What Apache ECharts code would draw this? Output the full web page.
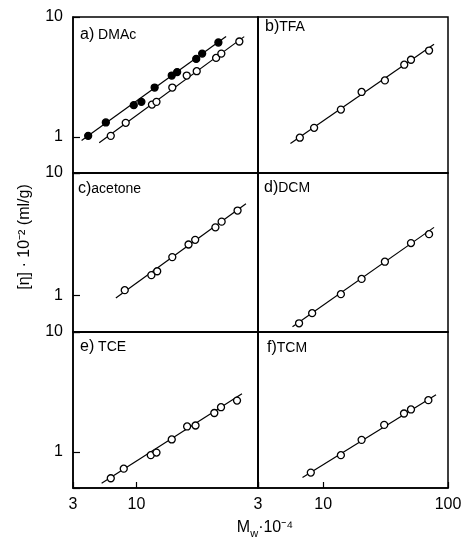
<!DOCTYPE html>
<html>
<head>
<meta charset="utf-8">
<script src="https://cdn.jsdelivr.net/npm/echarts@6/dist/echarts.min.js"></script>
<style>
  html, body { margin: 0; padding: 0; background: #fff; }
  #chart { width: 466px; height: 539px; }
</style>
</head>
<body>
<div id="chart"></div>
<script>
// Mw·10^-4 (x) and [eta]·10^-2 ml/g (y)
var dmacFilledM   = [4.0, 5.59, 9.49, 10.97, 14.1, 19.5, 21.6, 31.0, 34.7, 47.2];
var dmacFilledEta = [1.02, 1.32, 1.84, 1.96, 2.58, 3.25, 3.47, 4.47, 4.95, 6.13];
var dmacFilledFit = [[3.53, 0.932], [54.6, 6.88]];
var dmacOpenM     = [6.14, 8.15, 13.4, 14.6, 19.7, 25.9, 31.3, 45.2, 49.9, 70.2];
var dmacOpenEta   = [1.02, 1.31, 1.86, 1.96, 2.58, 3.25, 3.53, 4.56, 4.95, 6.25];
var dmacOpenFit   = [[4.93, 0.892], [77.0, 6.86]];

var tfaM   = [6.49, 8.45, 13.85, 20.3, 31.2, 44.6, 50.5, 70.5];
var tfaEta = [0.985, 1.19, 1.69, 2.37, 2.96, 4.0, 4.4, 5.25];
var tfaFit = [[5.46, 0.883], [77.3, 5.93]];

var acetoneM   = [8.0, 13.25, 14.8, 19.7, 26.8, 30.4, 44.6, 50.2, 67.9];
var acetoneEta = [1.10, 1.46, 1.57, 2.05, 2.60, 2.84, 3.59, 4.0, 4.93];
var acetoneFit = [[6.76, 0.948], [79.6, 5.6]];

var dcmM   = [6.4, 8.15, 13.85, 20.3, 31.2, 50.5, 70.5];
var dcmEta = [0.589, 0.713, 1.02, 1.36, 1.88, 2.67, 3.16];
var dcmFit = [[5.67, 0.552], [77.3, 3.59]];

var tceM   = [6.14, 7.85, 13.1, 14.6, 19.5, 26.1, 30.6, 43.7, 49.6, 67.2];
var tceEta = [0.603, 0.725, 0.939, 0.987, 1.27, 1.63, 1.66, 2.11, 2.36, 2.68];
var tceFit = [[5.16, 0.548], [73.8, 3.06]];

var tcmM   = [7.95, 13.85, 20.3, 30.8, 44.4, 50.5, 69.6];
var tcmEta = [0.672, 0.939, 1.26, 1.68, 2.09, 2.26, 2.70];
var tcmFit = [[6.82, 0.611], [80.2, 3.0]];

var panelLabels = ['a)', 'b)', 'c)', 'd)', 'e)', 'f)'];
var solventNames = [' DMAc', 'TFA', 'acetone', 'DCM', ' TCE', 'TCM'];
var yName = '[η] · 10⁻² (ml/g)';

var panels = [
  [{ m: dmacFilledM, eta: dmacFilledEta, fit: dmacFilledFit, filled: true },
   { m: dmacOpenM, eta: dmacOpenEta, fit: dmacOpenFit, filled: false }],
  [{ m: tfaM, eta: tfaEta, fit: tfaFit }],
  [{ m: acetoneM, eta: acetoneEta, fit: acetoneFit }],
  [{ m: dcmM, eta: dcmEta, fit: dcmFit }],
  [{ m: tceM, eta: tceEta, fit: tceFit }],
  [{ m: tcmM, eta: tcmEta, fit: tcmFit }]
];

// layout (px)
var FONT = '"Liberation Sans", Arial, sans-serif';
var colLeft = [73, 258], colWidth = [185, 190];
var rowTop = [17, 173, 332], rowHeight = [156, 159, 156];
var labelPos = [[80, 27], [265, 19], [78, 181], [264, 180], [80, 339], [267, 340]];

var grids = [], xAxes = [], yAxes = [], series = [], titles = [];

panels.forEach(function (sets, i) {
  var row = Math.floor(i / 2), col = i % 2;
  grids.push({
    left: colLeft[col], top: rowTop[row], width: colWidth[col], height: rowHeight[row],
    show: true, borderColor: '#000', borderWidth: 1.5, backgroundColor: 'transparent',
    outerBoundsMode: 'none'
  });
  xAxes.push({
    type: 'log', logBase: 10, min: 3, max: 100, gridIndex: i,
    axisLine: { show: true, lineStyle: { color: '#000', width: 1.5 } },
    axisTick: { show: row === 2, inside: true, length: 6, lineStyle: { color: '#000', width: 1.2 } },
    axisLabel: {
      show: row === 2, margin: 9, color: '#000', fontSize: 16, fontFamily: FONT,
      formatter: function (v) {
        // left panel's 100 sits under the right panel's 3
        if (col === 0 && v > 50) return '';
        return String(Math.round(v));
      }
    },
    splitLine: { show: false }
  });
  yAxes.push({
    type: 'log', logBase: 10, min: 0.5, max: 10, gridIndex: i,
    axisLine: { show: true, lineStyle: { color: '#000', width: 1.5 } },
    axisTick: { show: col === 0, inside: true, length: 7, lineStyle: { color: '#000', width: 1.2 } },
    axisLabel: {
      show: col === 0, margin: 10, color: '#000', fontSize: 16, fontFamily: FONT,
      formatter: function (v) { return v < 0.9 ? '' : String(Math.round(v)); }
    },
    splitLine: { show: false }
  });
  sets.forEach(function (s) {
    series.push({
      type: 'line', xAxisIndex: i, yAxisIndex: i, data: s.fit,
      symbol: 'none', silent: true, z: 2,
      lineStyle: { color: '#000', width: 1.2 }
    });
    series.push({
      type: 'scatter', xAxisIndex: i, yAxisIndex: i, z: 3,
      data: s.m.map(function (m, k) { return [m, s.eta[k]]; }),
      symbol: 'circle', symbolSize: 7,
      itemStyle: { color: s.filled ? '#000' : '#fff', borderColor: '#000', borderWidth: 1.3, opacity: 1 }
    });
  });
  titles.push({
    text: '{p|' + panelLabels[i] + '}{n|' + solventNames[i] + '}',
    left: labelPos[i][0], top: labelPos[i][1], padding: 0,
    textStyle: {
      fontWeight: 'normal',
      rich: {
        p: { fontSize: 16, fontFamily: FONT, fontWeight: 'normal', color: '#000' },
        n: { fontSize: 14, fontFamily: FONT, fontWeight: 'normal', color: '#000' }
      }
    }
  });
});

var chart = echarts.init(document.getElementById('chart'));
chart.setOption({
  backgroundColor: '#fff',
  animation: false,
  title: titles,
  grid: grids,
  xAxis: xAxes,
  yAxis: yAxes,
  series: series,
  graphic: [
    {
      type: 'text', x: 25, y: 237, rotation: Math.PI / 2,
      style: { text: yName, fontSize: 16, fontFamily: FONT, fill: '#000', align: 'center', verticalAlign: 'middle' }
    },
    {
      type: 'text', x: 265, y: 528,
      style: {
        text: '{m|M}{s|w}{m|·10⁻⁴}', fill: '#000', align: 'center', verticalAlign: 'middle',
        rich: {
          m: { fontSize: 16, fontFamily: FONT, lineHeight: 22 },
          s: { fontSize: 11, fontFamily: FONT, lineHeight: 13, verticalAlign: 'bottom' }
        }
      }
    }
  ]
});
</script>
</body>
</html>
